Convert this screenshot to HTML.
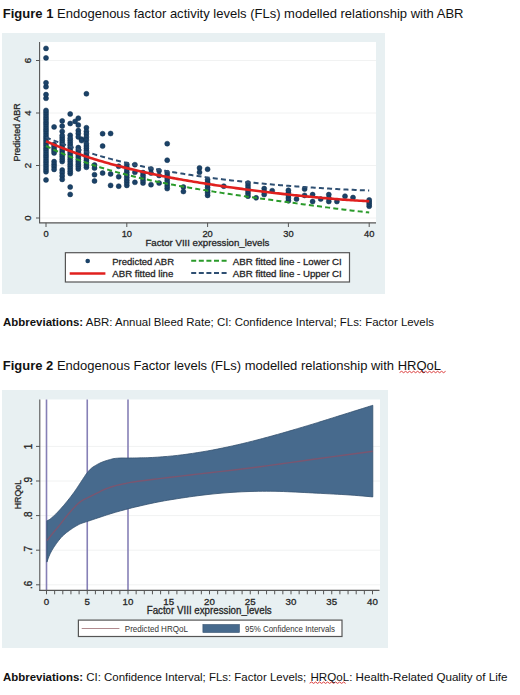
<!DOCTYPE html>
<html><head><meta charset="utf-8"><title>Figures</title>
<style>
html,body{margin:0;padding:0;background:#fff;width:520px;height:695px;overflow:hidden;}
svg{display:block;}
text{font-family:"Liberation Sans",sans-serif;}
.c{stroke:#2a2a2a;stroke-width:0.3px;}
</style></head>
<body>
<svg width="520" height="695" viewBox="0 0 520 695">
<text x="2.8" y="18" font-size="13" fill="#111" font-family="'Liberation Sans',sans-serif" textLength="460.7" lengthAdjust="spacingAndGlyphs"><tspan font-weight="bold">Figure 1</tspan> Endogenous factor activity levels (FLs) modelled relationship with ABR</text>
<rect x="2" y="33" width="383" height="261" fill="#e8f0f2"/>
<rect x="40" y="42" width="336" height="181" fill="#fff"/>
<line x1="40" x2="376" y1="218.00" y2="218.00" stroke="#f1f2f2" stroke-width="1"/>
<line x1="40" x2="376" y1="165.50" y2="165.50" stroke="#f1f2f2" stroke-width="1"/>
<line x1="40" x2="376" y1="113.00" y2="113.00" stroke="#f1f2f2" stroke-width="1"/>
<line x1="40" x2="376" y1="60.50" y2="60.50" stroke="#f1f2f2" stroke-width="1"/>
<g fill="#1b4268" stroke="#10304f" stroke-width="0.5"><circle cx="46.0" cy="179.9" r="2.5"/><circle cx="46.0" cy="171.8" r="2.5"/><circle cx="46.0" cy="169.4" r="2.5"/><circle cx="46.0" cy="167.1" r="2.5"/><circle cx="46.0" cy="164.7" r="2.5"/><circle cx="46.0" cy="162.3" r="2.5"/><circle cx="46.0" cy="160.0" r="2.5"/><circle cx="46.0" cy="157.6" r="2.5"/><circle cx="46.0" cy="155.3" r="2.5"/><circle cx="46.0" cy="152.9" r="2.5"/><circle cx="46.0" cy="150.5" r="2.5"/><circle cx="46.0" cy="148.2" r="2.5"/><circle cx="46.0" cy="145.8" r="2.5"/><circle cx="46.0" cy="143.4" r="2.5"/><circle cx="46.0" cy="141.1" r="2.5"/><circle cx="46.0" cy="138.7" r="2.5"/><circle cx="46.0" cy="136.4" r="2.5"/><circle cx="46.0" cy="134.0" r="2.5"/><circle cx="46.0" cy="131.6" r="2.5"/><circle cx="46.0" cy="129.3" r="2.5"/><circle cx="46.0" cy="126.9" r="2.5"/><circle cx="46.0" cy="124.5" r="2.5"/><circle cx="46.0" cy="122.2" r="2.5"/><circle cx="46.0" cy="119.8" r="2.5"/><circle cx="46.0" cy="117.5" r="2.5"/><circle cx="46.0" cy="115.1" r="2.5"/><circle cx="46.0" cy="112.7" r="2.5"/><circle cx="46.0" cy="110.4" r="2.5"/><circle cx="46.0" cy="98.3" r="2.5"/><circle cx="46.0" cy="94.6" r="2.5"/><circle cx="46.0" cy="86.8" r="2.5"/><circle cx="46.0" cy="82.8" r="2.5"/><circle cx="46.0" cy="57.9" r="2.5"/><circle cx="46.0" cy="48.4" r="2.5"/><circle cx="54.1" cy="126.9" r="2.5"/><circle cx="54.1" cy="144.5" r="2.5"/><circle cx="54.1" cy="146.6" r="2.5"/><circle cx="54.1" cy="148.7" r="2.5"/><circle cx="54.1" cy="150.8" r="2.5"/><circle cx="54.1" cy="152.9" r="2.5"/><circle cx="54.1" cy="161.6" r="2.5"/><circle cx="54.1" cy="164.2" r="2.5"/><circle cx="54.1" cy="166.8" r="2.5"/><circle cx="54.1" cy="169.4" r="2.5"/><circle cx="62.2" cy="120.9" r="2.5"/><circle cx="62.2" cy="126.1" r="2.5"/><circle cx="62.2" cy="131.4" r="2.5"/><circle cx="62.2" cy="161.6" r="2.5"/><circle cx="62.2" cy="159.2" r="2.5"/><circle cx="62.2" cy="156.8" r="2.5"/><circle cx="62.2" cy="154.5" r="2.5"/><circle cx="62.2" cy="152.1" r="2.5"/><circle cx="62.2" cy="149.8" r="2.5"/><circle cx="62.2" cy="147.4" r="2.5"/><circle cx="62.2" cy="145.0" r="2.5"/><circle cx="62.2" cy="142.7" r="2.5"/><circle cx="62.2" cy="140.3" r="2.5"/><circle cx="62.2" cy="137.9" r="2.5"/><circle cx="62.2" cy="135.6" r="2.5"/><circle cx="62.2" cy="170.0" r="2.5"/><circle cx="62.2" cy="172.8" r="2.5"/><circle cx="62.2" cy="176.0" r="2.5"/><circle cx="62.2" cy="179.4" r="2.5"/><circle cx="70.2" cy="114.0" r="2.5"/><circle cx="70.2" cy="123.5" r="2.5"/><circle cx="70.2" cy="135.3" r="2.5"/><circle cx="70.2" cy="173.6" r="2.5"/><circle cx="70.2" cy="171.3" r="2.5"/><circle cx="70.2" cy="168.9" r="2.5"/><circle cx="70.2" cy="166.6" r="2.5"/><circle cx="70.2" cy="164.2" r="2.5"/><circle cx="70.2" cy="161.8" r="2.5"/><circle cx="70.2" cy="159.5" r="2.5"/><circle cx="70.2" cy="157.1" r="2.5"/><circle cx="70.2" cy="154.7" r="2.5"/><circle cx="70.2" cy="152.4" r="2.5"/><circle cx="70.2" cy="150.0" r="2.5"/><circle cx="70.2" cy="147.6" r="2.5"/><circle cx="70.2" cy="145.3" r="2.5"/><circle cx="70.2" cy="142.9" r="2.5"/><circle cx="70.2" cy="140.6" r="2.5"/><circle cx="70.2" cy="138.2" r="2.5"/><circle cx="70.2" cy="187.0" r="2.5"/><circle cx="70.2" cy="194.4" r="2.5"/><circle cx="78.3" cy="118.2" r="2.5"/><circle cx="78.3" cy="125.1" r="2.5"/><circle cx="78.3" cy="130.6" r="2.5"/><circle cx="78.3" cy="133.5" r="2.5"/><circle cx="78.3" cy="136.9" r="2.5"/><circle cx="78.3" cy="168.9" r="2.5"/><circle cx="78.3" cy="166.6" r="2.5"/><circle cx="78.3" cy="164.2" r="2.5"/><circle cx="78.3" cy="161.8" r="2.5"/><circle cx="78.3" cy="159.5" r="2.5"/><circle cx="78.3" cy="157.1" r="2.5"/><circle cx="78.3" cy="154.7" r="2.5"/><circle cx="78.3" cy="152.4" r="2.5"/><circle cx="78.3" cy="150.0" r="2.5"/><circle cx="78.3" cy="147.6" r="2.5"/><circle cx="75.1" cy="121.4" r="2.5"/><circle cx="81.6" cy="139.2" r="2.5"/><circle cx="81.6" cy="140.6" r="2.5"/><circle cx="86.4" cy="93.8" r="2.5"/><circle cx="86.4" cy="127.7" r="2.5"/><circle cx="86.4" cy="131.4" r="2.5"/><circle cx="86.4" cy="134.0" r="2.5"/><circle cx="86.4" cy="137.1" r="2.5"/><circle cx="86.4" cy="140.0" r="2.5"/><circle cx="86.4" cy="167.3" r="2.5"/><circle cx="86.4" cy="165.0" r="2.5"/><circle cx="86.4" cy="162.6" r="2.5"/><circle cx="86.4" cy="160.2" r="2.5"/><circle cx="86.4" cy="157.9" r="2.5"/><circle cx="86.4" cy="155.5" r="2.5"/><circle cx="86.4" cy="153.2" r="2.5"/><circle cx="86.4" cy="150.8" r="2.5"/><circle cx="86.4" cy="148.4" r="2.5"/><circle cx="86.4" cy="146.1" r="2.5"/><circle cx="86.4" cy="143.7" r="2.5"/><circle cx="94.5" cy="165.0" r="2.5"/><circle cx="94.5" cy="168.1" r="2.5"/><circle cx="94.5" cy="174.7" r="2.5"/><circle cx="94.5" cy="181.0" r="2.5"/><circle cx="102.6" cy="133.7" r="2.5"/><circle cx="102.6" cy="146.1" r="2.5"/><circle cx="102.6" cy="173.1" r="2.5"/><circle cx="110.6" cy="133.5" r="2.5"/><circle cx="110.6" cy="173.9" r="2.5"/><circle cx="110.6" cy="185.4" r="2.5"/><circle cx="118.7" cy="166.3" r="2.5"/><circle cx="118.7" cy="176.8" r="2.5"/><circle cx="118.7" cy="186.2" r="2.5"/><circle cx="126.8" cy="185.4" r="2.5"/><circle cx="126.8" cy="182.8" r="2.5"/><circle cx="126.8" cy="180.2" r="2.5"/><circle cx="126.8" cy="177.6" r="2.5"/><circle cx="126.8" cy="174.9" r="2.5"/><circle cx="126.8" cy="172.3" r="2.5"/><circle cx="126.8" cy="169.7" r="2.5"/><circle cx="126.8" cy="167.1" r="2.5"/><circle cx="126.8" cy="164.4" r="2.5"/><circle cx="134.9" cy="164.7" r="2.5"/><circle cx="134.9" cy="172.3" r="2.5"/><circle cx="134.9" cy="182.3" r="2.5"/><circle cx="143.0" cy="183.1" r="2.5"/><circle cx="143.0" cy="180.5" r="2.5"/><circle cx="143.0" cy="177.8" r="2.5"/><circle cx="143.0" cy="175.2" r="2.5"/><circle cx="143.0" cy="172.6" r="2.5"/><circle cx="151.0" cy="168.9" r="2.5"/><circle cx="151.0" cy="173.1" r="2.5"/><circle cx="151.0" cy="184.7" r="2.5"/><circle cx="159.1" cy="170.8" r="2.5"/><circle cx="159.1" cy="175.5" r="2.5"/><circle cx="159.1" cy="183.1" r="2.5"/><circle cx="167.2" cy="143.7" r="2.5"/><circle cx="167.2" cy="160.2" r="2.5"/><circle cx="167.2" cy="188.6" r="2.5"/><circle cx="167.2" cy="186.0" r="2.5"/><circle cx="167.2" cy="183.3" r="2.5"/><circle cx="167.2" cy="180.7" r="2.5"/><circle cx="167.2" cy="178.1" r="2.5"/><circle cx="167.2" cy="175.5" r="2.5"/><circle cx="167.2" cy="172.8" r="2.5"/><circle cx="183.4" cy="187.0" r="2.5"/><circle cx="183.4" cy="191.5" r="2.5"/><circle cx="199.5" cy="167.9" r="2.5"/><circle cx="199.5" cy="172.3" r="2.5"/><circle cx="207.6" cy="169.2" r="2.5"/><circle cx="207.6" cy="195.4" r="2.5"/><circle cx="207.6" cy="192.8" r="2.5"/><circle cx="207.6" cy="190.2" r="2.5"/><circle cx="207.6" cy="187.6" r="2.5"/><circle cx="207.6" cy="184.9" r="2.5"/><circle cx="207.6" cy="182.3" r="2.5"/><circle cx="207.6" cy="179.7" r="2.5"/><circle cx="223.8" cy="186.2" r="2.5"/><circle cx="248.0" cy="196.2" r="2.5"/><circle cx="248.0" cy="193.6" r="2.5"/><circle cx="248.0" cy="191.0" r="2.5"/><circle cx="248.0" cy="188.3" r="2.5"/><circle cx="248.0" cy="185.7" r="2.5"/><circle cx="248.0" cy="183.1" r="2.5"/><circle cx="256.1" cy="197.8" r="2.5"/><circle cx="264.2" cy="188.6" r="2.5"/><circle cx="264.2" cy="191.8" r="2.5"/><circle cx="264.2" cy="194.6" r="2.5"/><circle cx="272.2" cy="190.7" r="2.5"/><circle cx="288.4" cy="200.7" r="2.5"/><circle cx="288.4" cy="198.1" r="2.5"/><circle cx="288.4" cy="195.4" r="2.5"/><circle cx="288.4" cy="192.8" r="2.5"/><circle cx="288.4" cy="190.2" r="2.5"/><circle cx="296.5" cy="199.1" r="2.5"/><circle cx="304.6" cy="189.1" r="2.5"/><circle cx="304.6" cy="195.4" r="2.5"/><circle cx="312.6" cy="194.6" r="2.5"/><circle cx="312.6" cy="201.5" r="2.5"/><circle cx="320.7" cy="199.1" r="2.5"/><circle cx="328.8" cy="194.6" r="2.5"/><circle cx="328.8" cy="198.1" r="2.5"/><circle cx="328.8" cy="201.5" r="2.5"/><circle cx="336.9" cy="201.5" r="2.5"/><circle cx="345.0" cy="196.2" r="2.5"/><circle cx="353.0" cy="197.5" r="2.5"/><circle cx="369.2" cy="206.2" r="2.5"/><circle cx="369.2" cy="204.1" r="2.5"/><circle cx="369.2" cy="202.0" r="2.5"/><circle cx="369.2" cy="199.9" r="2.5"/></g>
<path d="M46.00,137.31 L48.02,138.15 L50.04,138.97 L52.06,139.78 L54.08,140.58 L56.10,141.37 L58.12,142.14 L60.14,142.91 L62.16,143.66 L64.18,144.41 L66.20,145.14 L68.22,145.87 L70.24,146.58 L72.26,147.28 L74.28,147.98 L76.30,148.66 L78.32,149.33 L80.34,150.00 L82.36,150.65 L84.38,151.30 L86.40,151.94 L88.42,152.56 L90.44,153.18 L92.46,153.79 L94.48,154.39 L96.50,154.98 L98.52,155.57 L100.54,156.14 L102.56,156.71 L104.58,157.27 L106.60,157.82 L108.62,158.36 L110.64,158.90 L112.66,159.43 L114.68,159.95 L116.70,160.46 L118.72,160.97 L120.74,161.47 L122.76,161.96 L124.78,162.44 L126.80,162.92 L128.82,163.39 L130.84,163.85 L132.86,164.31 L134.88,164.76 L136.90,165.21 L138.92,165.64 L140.94,166.08 L142.96,166.50 L144.98,166.92 L147.00,167.33 L149.02,167.74 L151.04,168.14 L153.06,168.54 L155.08,168.93 L157.10,169.32 L159.12,169.70 L161.14,170.07 L163.16,170.44 L165.18,170.80 L167.20,171.16 L169.22,171.52 L171.24,171.87 L173.26,172.21 L175.28,172.55 L177.30,172.89 L179.32,173.22 L181.34,173.54 L183.36,173.86 L185.38,174.18 L187.40,174.49 L189.42,174.80 L191.44,175.10 L193.46,175.40 L195.48,175.70 L197.50,175.99 L199.52,176.28 L201.54,176.56 L203.56,176.84 L205.58,177.12 L207.60,177.39 L209.62,177.66 L211.64,177.93 L213.66,178.19 L215.68,178.45 L217.70,178.70 L219.72,178.96 L221.74,179.20 L223.76,179.45 L225.78,179.69 L227.80,179.93 L229.82,180.17 L231.84,180.40 L233.86,180.63 L235.88,180.86 L237.90,181.08 L239.92,181.30 L241.94,181.52 L243.96,181.73 L245.98,181.95 L248.00,182.16 L250.02,182.36 L252.04,182.57 L254.06,182.77 L256.08,182.97 L258.10,183.17 L260.12,183.36 L262.14,183.55 L264.16,183.74 L266.18,183.93 L268.20,184.11 L270.22,184.30 L272.24,184.47 L274.26,184.65 L276.28,184.83 L278.30,185.00 L280.32,185.17 L282.34,185.34 L284.36,185.50 L286.38,185.67 L288.40,185.83 L290.42,185.99 L292.44,186.15 L294.46,186.30 L296.48,186.45 L298.50,186.60 L300.52,186.75 L302.54,186.90 L304.56,187.04 L306.58,187.18 L308.60,187.32 L310.62,187.46 L312.64,187.60 L314.66,187.73 L316.68,187.86 L318.70,187.99 L320.72,188.12 L322.74,188.24 L324.76,188.37 L326.78,188.49 L328.80,188.61 L330.82,188.72 L332.84,188.84 L334.86,188.95 L336.88,189.06 L338.90,189.17 L340.92,189.27 L342.94,189.38 L344.96,189.48 L346.98,189.58 L349.00,189.67 L351.02,189.77 L353.04,189.86 L355.06,189.95 L357.08,190.04 L359.10,190.12 L361.12,190.21 L363.14,190.29 L365.16,190.36 L367.18,190.44 L369.20,190.51" fill="none" stroke="#2e4f72" stroke-width="2" stroke-dasharray="5 3.2"/>
<path d="M46.00,145.99 L48.02,146.97 L50.04,147.94 L52.06,148.89 L54.08,149.82 L56.10,150.74 L58.12,151.64 L60.14,152.52 L62.16,153.39 L64.18,154.25 L66.20,155.09 L68.22,155.92 L70.24,156.74 L72.26,157.54 L74.28,158.32 L76.30,159.10 L78.32,159.86 L80.34,160.60 L82.36,161.34 L84.38,162.06 L86.40,162.77 L88.42,163.47 L90.44,164.16 L92.46,164.84 L94.48,165.50 L96.50,166.16 L98.52,166.80 L100.54,167.43 L102.56,168.06 L104.58,168.67 L106.60,169.27 L108.62,169.86 L110.64,170.45 L112.66,171.02 L114.68,171.59 L116.70,172.14 L118.72,172.69 L120.74,173.23 L122.76,173.76 L124.78,174.28 L126.80,174.80 L128.82,175.30 L130.84,175.80 L132.86,176.30 L134.88,176.78 L136.90,177.26 L138.92,177.73 L140.94,178.19 L142.96,178.65 L144.98,179.10 L147.00,179.54 L149.02,179.98 L151.04,180.42 L153.06,180.84 L155.08,181.26 L157.10,181.68 L159.12,182.09 L161.14,182.49 L163.16,182.89 L165.18,183.29 L167.20,183.68 L169.22,184.07 L171.24,184.45 L173.26,184.82 L175.28,185.20 L177.30,185.57 L179.32,185.93 L181.34,186.29 L183.36,186.65 L185.38,187.00 L187.40,187.35 L189.42,187.70 L191.44,188.04 L193.46,188.38 L195.48,188.72 L197.50,189.05 L199.52,189.38 L201.54,189.71 L203.56,190.04 L205.58,190.36 L207.60,190.68 L209.62,191.00 L211.64,191.32 L213.66,191.63 L215.68,191.94 L217.70,192.25 L219.72,192.56 L221.74,192.87 L223.76,193.17 L225.78,193.47 L227.80,193.77 L229.82,194.07 L231.84,194.37 L233.86,194.67 L235.88,194.96 L237.90,195.26 L239.92,195.55 L241.94,195.84 L243.96,196.13 L245.98,196.42 L248.00,196.71 L250.02,196.99 L252.04,197.28 L254.06,197.56 L256.08,197.85 L258.10,198.13 L260.12,198.41 L262.14,198.69 L264.16,198.97 L266.18,199.25 L268.20,199.53 L270.22,199.81 L272.24,200.09 L274.26,200.37 L276.28,200.64 L278.30,200.92 L280.32,201.20 L282.34,201.47 L284.36,201.75 L286.38,202.02 L288.40,202.29 L290.42,202.57 L292.44,202.84 L294.46,203.11 L296.48,203.38 L298.50,203.65 L300.52,203.92 L302.54,204.19 L304.56,204.46 L306.58,204.73 L308.60,204.99 L310.62,205.26 L312.64,205.53 L314.66,205.79 L316.68,206.06 L318.70,206.32 L320.72,206.58 L322.74,206.85 L324.76,207.11 L326.78,207.37 L328.80,207.63 L330.82,207.89 L332.84,208.14 L334.86,208.40 L336.88,208.66 L338.90,208.91 L340.92,209.16 L342.94,209.41 L344.96,209.66 L346.98,209.91 L349.00,210.16 L351.02,210.41 L353.04,210.65 L355.06,210.89 L357.08,211.13 L359.10,211.37 L361.12,211.61 L363.14,211.84 L365.16,212.08 L367.18,212.31 L369.20,212.54" fill="none" stroke="#2a9a2a" stroke-width="2" stroke-dasharray="5 3.2"/>
<path d="M46.00,141.26 L48.02,142.14 L50.04,143.00 L52.06,143.86 L54.08,144.70 L56.10,145.53 L58.12,146.34 L60.14,147.15 L62.16,147.94 L64.18,148.72 L66.20,149.49 L68.22,150.25 L70.24,151.00 L72.26,151.74 L74.28,152.46 L76.30,153.18 L78.32,153.89 L80.34,154.58 L82.36,155.27 L84.38,155.94 L86.40,156.61 L88.42,157.26 L90.44,157.91 L92.46,158.55 L94.48,159.18 L96.50,159.80 L98.52,160.41 L100.54,161.01 L102.56,161.61 L104.58,162.19 L106.60,162.77 L108.62,163.34 L110.64,163.90 L112.66,164.46 L114.68,165.00 L116.70,165.54 L118.72,166.07 L120.74,166.60 L122.76,167.12 L124.78,167.63 L126.80,168.13 L128.82,168.63 L130.84,169.12 L132.86,169.60 L134.88,170.08 L136.90,170.55 L138.92,171.02 L140.94,171.48 L142.96,171.93 L144.98,172.38 L147.00,172.82 L149.02,173.26 L151.04,173.69 L153.06,174.12 L155.08,174.54 L157.10,174.95 L159.12,175.36 L161.14,175.77 L163.16,176.17 L165.18,176.57 L167.20,176.96 L169.22,177.35 L171.24,177.73 L173.26,178.11 L175.28,178.48 L177.30,178.85 L179.32,179.22 L181.34,179.58 L183.36,179.94 L185.38,180.29 L187.40,180.64 L189.42,180.99 L191.44,181.33 L193.46,181.67 L195.48,182.01 L197.50,182.34 L199.52,182.67 L201.54,183.00 L203.56,183.32 L205.58,183.64 L207.60,183.96 L209.62,184.27 L211.64,184.58 L213.66,184.89 L215.68,185.19 L217.70,185.50 L219.72,185.79 L221.74,186.09 L223.76,186.38 L225.78,186.68 L227.80,186.96 L229.82,187.25 L231.84,187.53 L233.86,187.81 L235.88,188.09 L237.90,188.37 L239.92,188.64 L241.94,188.91 L243.96,189.18 L245.98,189.45 L248.00,189.71 L250.02,189.97 L252.04,190.23 L254.06,190.49 L256.08,190.74 L258.10,191.00 L260.12,191.25 L262.14,191.50 L264.16,191.74 L266.18,191.99 L268.20,192.23 L270.22,192.47 L272.24,192.71 L274.26,192.94 L276.28,193.18 L278.30,193.41 L280.32,193.64 L282.34,193.86 L284.36,194.09 L286.38,194.31 L288.40,194.53 L290.42,194.75 L292.44,194.97 L294.46,195.18 L296.48,195.39 L298.50,195.60 L300.52,195.81 L302.54,196.01 L304.56,196.22 L306.58,196.42 L308.60,196.62 L310.62,196.81 L312.64,197.00 L314.66,197.19 L316.68,197.38 L318.70,197.57 L320.72,197.75 L322.74,197.93 L324.76,198.11 L326.78,198.29 L328.80,198.46 L330.82,198.63 L332.84,198.79 L334.86,198.96 L336.88,199.12 L338.90,199.28 L340.92,199.43 L342.94,199.59 L344.96,199.73 L346.98,199.88 L349.00,200.02 L351.02,200.16 L353.04,200.30 L355.06,200.43 L357.08,200.56 L359.10,200.68 L361.12,200.81 L363.14,200.92 L365.16,201.04 L367.18,201.15 L369.20,201.25" fill="none" stroke="#e0201e" stroke-width="2.6"/>
<line x1="39.6" x2="39.6" y1="42" y2="223.3" stroke="#555555" stroke-width="1.1"/>
<line x1="39.4" x2="376" y1="222.8" y2="222.8" stroke="#555555" stroke-width="1.2"/>
<line x1="36" x2="40" y1="218.00" y2="218.00" stroke="#555555" stroke-width="1"/>
<text class="c" x="30.60" y="218.00" font-size="9.6" text-anchor="middle" fill="#222222" font-family="'Liberation Sans',sans-serif" transform="rotate(-90 30.60 218.00)" >0</text>
<line x1="36" x2="40" y1="165.50" y2="165.50" stroke="#555555" stroke-width="1"/>
<text class="c" x="30.60" y="165.50" font-size="9.6" text-anchor="middle" fill="#222222" font-family="'Liberation Sans',sans-serif" transform="rotate(-90 30.60 165.50)" >2</text>
<line x1="36" x2="40" y1="113.00" y2="113.00" stroke="#555555" stroke-width="1"/>
<text class="c" x="30.60" y="113.00" font-size="9.6" text-anchor="middle" fill="#222222" font-family="'Liberation Sans',sans-serif" transform="rotate(-90 30.60 113.00)" >4</text>
<line x1="36" x2="40" y1="60.50" y2="60.50" stroke="#555555" stroke-width="1"/>
<text class="c" x="30.60" y="60.50" font-size="9.6" text-anchor="middle" fill="#222222" font-family="'Liberation Sans',sans-serif" transform="rotate(-90 30.60 60.50)" >6</text>
<line x1="46.00" x2="46.00" y1="222.8" y2="227" stroke="#555555" stroke-width="1"/>
<text class="c" x="46.00" y="237.30" font-size="9.3" text-anchor="middle" fill="#222222" font-family="'Liberation Sans',sans-serif" >0</text>
<line x1="126.80" x2="126.80" y1="222.8" y2="227" stroke="#555555" stroke-width="1"/>
<text class="c" x="126.80" y="237.30" font-size="9.3" text-anchor="middle" fill="#222222" font-family="'Liberation Sans',sans-serif" >10</text>
<line x1="207.60" x2="207.60" y1="222.8" y2="227" stroke="#555555" stroke-width="1"/>
<text class="c" x="207.60" y="237.30" font-size="9.3" text-anchor="middle" fill="#222222" font-family="'Liberation Sans',sans-serif" >20</text>
<line x1="288.40" x2="288.40" y1="222.8" y2="227" stroke="#555555" stroke-width="1"/>
<text class="c" x="288.40" y="237.30" font-size="9.3" text-anchor="middle" fill="#222222" font-family="'Liberation Sans',sans-serif" >30</text>
<line x1="369.20" x2="369.20" y1="222.8" y2="227" stroke="#555555" stroke-width="1"/>
<text class="c" x="369.20" y="237.30" font-size="9.3" text-anchor="middle" fill="#222222" font-family="'Liberation Sans',sans-serif" >40</text>
<text class="c" x="207.40" y="245.70" font-size="9.8" text-anchor="middle" fill="#222222" font-family="'Liberation Sans',sans-serif" textLength="124.00" lengthAdjust="spacingAndGlyphs" >Factor VIII expression_levels</text>
<text class="c" x="20.20" y="132.50" font-size="9.1" text-anchor="middle" fill="#222222" font-family="'Liberation Sans',sans-serif" textLength="58.20" lengthAdjust="spacingAndGlyphs" transform="rotate(-90 20.20 132.50)" >Predicted ABR</text>
<rect x="65.4" y="252.7" width="284.1" height="29.3" fill="#fff" stroke="#555555" stroke-width="1.2"/>
<circle cx="87.7" cy="261" r="2.3" fill="#1b4268"/>
<line x1="69.7" x2="105.4" y1="273.5" y2="273.5" stroke="#e0201e" stroke-width="2.4"/>
<line x1="191.2" x2="226.6" y1="260.8" y2="260.8" stroke="#2a9a2a" stroke-width="2" stroke-dasharray="5 2.6"/>
<line x1="191.2" x2="226.6" y1="273" y2="273" stroke="#2e4f72" stroke-width="2" stroke-dasharray="5 2.6"/>
<text class="c" x="112.30" y="264.60" font-size="9.8" text-anchor="start" fill="#222222" font-family="'Liberation Sans',sans-serif" textLength="61.70" lengthAdjust="spacingAndGlyphs" >Predicted ABR</text>
<text class="c" x="112.30" y="277.20" font-size="9.8" text-anchor="start" fill="#222222" font-family="'Liberation Sans',sans-serif" textLength="61.00" lengthAdjust="spacingAndGlyphs" >ABR fitted line</text>
<text class="c" x="232.80" y="264.60" font-size="9.8" text-anchor="start" fill="#222222" font-family="'Liberation Sans',sans-serif" textLength="109.00" lengthAdjust="spacingAndGlyphs" >ABR fitted line - Lower CI</text>
<text class="c" x="232.80" y="277.20" font-size="9.8" text-anchor="start" fill="#222222" font-family="'Liberation Sans',sans-serif" textLength="109.00" lengthAdjust="spacingAndGlyphs" >ABR fitted line - Upper CI</text>
<text x="3" y="326.3" font-size="11" fill="#111" font-family="'Liberation Sans',sans-serif" textLength="431" lengthAdjust="spacingAndGlyphs"><tspan font-weight="bold">Abbreviations:</tspan> ABR: Annual Bleed Rate; CI: Confidence Interval; FLs: Factor Levels</text>
<text x="2.8" y="370.3" font-size="13" fill="#111" font-family="'Liberation Sans',sans-serif" textLength="438.2" lengthAdjust="spacingAndGlyphs"><tspan font-weight="bold">Figure 2</tspan> Endogenous Factor levels (FLs) modelled relationship with HRQoL</text>
<path d="M399.6,372.5 L401.6,371.3 L403.6,372.7 L405.6,371.3 L407.6,372.7 L409.6,371.3 L411.6,372.7 L413.6,371.3 L415.6,372.7 L417.6,371.3 L419.6,372.7 L421.6,371.3 L423.6,372.7 L425.6,371.3 L427.6,372.7 L429.6,371.3 L431.6,372.7 L433.6,371.3 L435.6,372.7 L437.6,371.3 L439.6,372.7 L441.6,371.3 L443.6,372.7 L445.6,371.3" fill="none" stroke="#d82828" stroke-width="0.9"/>
<path d="M309.6,683.2 L311.6,682.0 L313.6,683.4 L315.6,682.0 L317.6,683.4 L319.6,682.0 L321.6,683.4 L323.6,682.0 L325.6,683.4 L327.6,682.0 L329.6,683.4 L331.6,682.0 L333.6,683.4 L335.6,682.0 L337.6,683.4 L339.6,682.0 L341.6,683.4 L343.6,682.0 L345.6,683.4" fill="none" stroke="#d82828" stroke-width="0.9"/>
<rect x="2" y="390" width="386" height="258" fill="#e8f0f2"/>
<rect x="40" y="399.5" width="340" height="191" fill="#fff"/>
<line x1="40" x2="380" y1="584.80" y2="584.80" stroke="#f1f2f2" stroke-width="1"/>
<line x1="40" x2="380" y1="550.20" y2="550.20" stroke="#f1f2f2" stroke-width="1"/>
<line x1="40" x2="380" y1="515.60" y2="515.60" stroke="#f1f2f2" stroke-width="1"/>
<line x1="40" x2="380" y1="481.00" y2="481.00" stroke="#f1f2f2" stroke-width="1"/>
<line x1="40" x2="380" y1="446.40" y2="446.40" stroke="#f1f2f2" stroke-width="1"/>
<line x1="46.50" x2="46.50" y1="399.5" y2="590.3" stroke="#8680b6" stroke-width="1.6"/>
<line x1="87.25" x2="87.25" y1="399.5" y2="590.3" stroke="#8680b6" stroke-width="1.6"/>
<line x1="128.00" x2="128.00" y1="399.5" y2="590.3" stroke="#8680b6" stroke-width="1.6"/>
<polygon points="46.90,520.70 47.18,520.59 47.54,520.47 47.99,520.32 48.51,520.09 49.12,519.76 49.80,519.30 50.59,518.69 51.49,517.95 52.46,517.11 53.49,516.19 54.55,515.21 55.60,514.20 56.66,513.13 57.76,511.99 58.89,510.79 60.03,509.55 61.17,508.28 62.30,507.00 63.44,505.68 64.60,504.32 65.76,502.92 66.91,501.53 68.03,500.14 69.10,498.80 70.11,497.51 71.08,496.26 72.01,495.03 72.93,493.79 73.86,492.52 74.80,491.20 75.76,489.81 76.73,488.38 77.69,486.92 78.66,485.44 79.63,483.96 80.60,482.50 81.58,481.01 82.58,479.47 83.58,477.93 84.56,476.44 85.50,475.05 86.40,473.80 87.24,472.71 88.02,471.73 88.78,470.86 89.51,470.06 90.25,469.31 91.00,468.60 91.76,467.95 92.50,467.37 93.25,466.85 94.01,466.36 94.79,465.89 95.60,465.40 96.45,464.90 97.31,464.41 98.21,463.94 99.12,463.47 100.05,463.03 101.00,462.60 101.97,462.19 102.95,461.81 103.96,461.44 104.98,461.08 106.03,460.74 107.10,460.40 108.20,460.06 109.34,459.73 110.49,459.40 111.66,459.10 112.83,458.83 114.00,458.60 115.16,458.42 116.33,458.29 117.50,458.19 118.67,458.11 119.84,458.05 121.00,458.00 122.12,457.97 123.19,457.96 124.26,457.97 125.37,457.99 126.57,458.00 127.90,458.00 129.38,457.99 130.96,457.98 132.63,457.97 134.37,457.95 136.17,457.93 138.00,457.90 139.86,457.87 141.75,457.84 143.69,457.81 145.71,457.76 147.80,457.69 150.00,457.60 152.33,457.48 154.78,457.34 157.31,457.18 159.89,457.00 162.47,456.80 165.00,456.60 167.50,456.39 170.00,456.16 172.50,455.92 175.00,455.66 177.50,455.39 180.00,455.10 182.50,454.79 185.00,454.46 187.50,454.11 190.00,453.75 192.50,453.38 195.00,453.00 197.50,452.61 200.00,452.21 202.50,451.81 205.00,451.39 207.50,450.95 210.00,450.50 212.50,450.03 215.00,449.55 217.50,449.05 220.00,448.54 222.50,448.02 225.00,447.50 227.50,446.97 230.00,446.44 232.50,445.89 235.00,445.34 237.50,444.78 240.00,444.20 242.50,443.61 245.00,443.01 247.50,442.39 250.00,441.77 252.50,441.14 255.00,440.50 257.50,439.85 260.00,439.20 262.50,438.53 265.00,437.86 267.50,437.18 270.00,436.50 272.50,435.81 275.00,435.12 277.50,434.43 280.00,433.72 282.50,433.01 285.00,432.30 287.50,431.58 290.00,430.85 292.50,430.12 295.00,429.38 297.50,428.64 300.00,427.90 302.50,427.16 305.00,426.41 307.50,425.67 310.00,424.92 312.50,424.16 315.00,423.40 317.50,422.63 320.00,421.85 322.50,421.06 325.00,420.27 327.50,419.49 330.00,418.70 332.50,417.92 335.00,417.13 337.50,416.35 340.00,415.57 342.50,414.78 345.00,414.00 347.53,413.21 350.08,412.41 352.64,411.61 355.16,410.81 357.63,410.04 360.00,409.30 362.41,408.55 364.90,407.77 367.34,407.01 369.56,406.31 371.43,405.73 372.80,405.30 372.80,496.90 370.34,496.69 366.97,496.39 362.96,496.04 358.61,495.67 354.19,495.31 350.00,495.00 345.96,494.74 341.83,494.49 337.64,494.26 333.41,494.04 329.19,493.82 325.00,493.60 320.83,493.37 316.67,493.15 312.50,492.93 308.33,492.71 304.17,492.50 300.00,492.30 295.83,492.10 291.67,491.90 287.50,491.71 283.33,491.53 279.17,491.39 275.00,491.30 270.82,491.25 266.63,491.24 262.44,491.26 258.26,491.31 254.11,491.39 250.00,491.50 245.94,491.64 241.93,491.81 237.94,492.01 233.96,492.24 229.99,492.51 226.00,492.80 222.00,493.12 218.00,493.48 214.00,493.87 210.00,494.29 206.00,494.73 202.00,495.20 197.95,495.71 193.85,496.26 189.75,496.84 185.70,497.43 181.77,498.02 178.00,498.60 174.44,499.16 171.04,499.70 167.75,500.24 164.52,500.79 161.29,501.38 158.00,502.00 154.55,502.70 150.97,503.46 147.38,504.26 143.93,505.04 140.76,505.77 138.00,506.40 135.80,506.91 134.08,507.31 132.63,507.67 131.26,508.02 129.75,508.41 127.90,508.90 125.67,509.49 123.22,510.14 120.63,510.84 118.00,511.57 115.43,512.29 113.00,513.00 110.72,513.69 108.53,514.39 106.39,515.08 104.27,515.78 102.15,516.49 100.00,517.20 97.75,517.94 95.42,518.72 93.09,519.51 90.83,520.27 88.74,520.97 86.90,521.60 85.38,522.10 84.12,522.47 83.03,522.80 81.99,523.14 80.92,523.55 79.70,524.10 78.34,524.79 76.91,525.57 75.44,526.42 73.95,527.34 72.46,528.30 71.00,529.30 69.54,530.33 68.06,531.41 66.59,532.54 65.14,533.71 63.73,534.93 62.40,536.20 61.13,537.53 59.91,538.94 58.74,540.39 57.61,541.87 56.53,543.35 55.50,544.80 54.51,546.23 53.57,547.66 52.68,549.09 51.84,550.53 51.04,551.96 50.30,553.40 49.59,554.94 48.91,556.61 48.27,558.29 47.71,559.84 47.25,561.15 46.90,562.10" fill="#476a8d" stroke="#34506e" stroke-width="0.8"/>
<polyline points="46.90,540.60 47.56,539.77 48.47,538.63 49.55,537.28 50.72,535.81 51.90,534.35 53.00,533.00 54.04,531.76 55.07,530.55 56.11,529.34 57.17,528.10 58.26,526.79 59.40,525.40 60.59,523.88 61.84,522.26 63.11,520.57 64.41,518.87 65.71,517.20 67.00,515.60 68.31,514.05 69.66,512.49 71.02,510.97 72.35,509.51 73.62,508.14 74.80,506.90 75.86,505.80 76.82,504.82 77.72,503.93 78.61,503.11 79.52,502.35 80.50,501.60 81.52,500.91 82.55,500.30 83.60,499.74 84.70,499.20 85.86,498.63 87.10,498.00 88.44,497.32 89.87,496.60 91.37,495.86 92.90,495.11 94.46,494.35 96.00,493.60 97.55,492.83 99.12,492.03 100.71,491.23 102.31,490.44 103.91,489.69 105.50,489.00 107.09,488.37 108.69,487.79 110.28,487.24 111.87,486.73 113.45,486.25 115.00,485.80 116.47,485.40 117.85,485.06 119.22,484.76 120.65,484.46 122.22,484.15 124.00,483.80 125.60,483.46 126.89,483.14 128.31,482.82 130.33,482.43 133.41,481.94 138.00,481.30 144.38,480.48 152.22,479.51 161.12,478.43 170.67,477.29 180.43,476.13 190.00,475.00 199.54,473.89 209.41,472.76 219.50,471.62 229.70,470.45 239.91,469.24 250.00,468.00 259.97,466.71 269.90,465.37 279.82,463.99 289.79,462.60 299.84,461.20 310.00,459.80 321.03,458.30 333.05,456.67 345.15,455.04 356.41,453.51 365.94,452.23 372.80,451.30" fill="none" stroke="#7a5670" stroke-width="1.4"/>
<line x1="39.8" x2="39.8" y1="399.5" y2="591" stroke="#555555" stroke-width="1.1"/>
<line x1="39.4" x2="379.5" y1="590.3" y2="590.3" stroke="#555555" stroke-width="1.2"/>
<line x1="36" x2="40" y1="584.80" y2="584.80" stroke="#555555" stroke-width="1"/>
<text class="c" x="32.10" y="584.80" font-size="10" text-anchor="middle" fill="#222222" font-family="'Liberation Sans',sans-serif" transform="rotate(-90 32.10 584.80)" >.6</text>
<line x1="36" x2="40" y1="550.20" y2="550.20" stroke="#555555" stroke-width="1"/>
<text class="c" x="32.10" y="550.20" font-size="10" text-anchor="middle" fill="#222222" font-family="'Liberation Sans',sans-serif" transform="rotate(-90 32.10 550.20)" >.7</text>
<line x1="36" x2="40" y1="515.60" y2="515.60" stroke="#555555" stroke-width="1"/>
<text class="c" x="32.10" y="515.60" font-size="10" text-anchor="middle" fill="#222222" font-family="'Liberation Sans',sans-serif" transform="rotate(-90 32.10 515.60)" >.8</text>
<line x1="36" x2="40" y1="481.00" y2="481.00" stroke="#555555" stroke-width="1"/>
<text class="c" x="32.10" y="481.00" font-size="10" text-anchor="middle" fill="#222222" font-family="'Liberation Sans',sans-serif" transform="rotate(-90 32.10 481.00)" >.9</text>
<line x1="36" x2="40" y1="446.40" y2="446.40" stroke="#555555" stroke-width="1"/>
<text class="c" x="32.10" y="446.40" font-size="10" text-anchor="middle" fill="#222222" font-family="'Liberation Sans',sans-serif" transform="rotate(-90 32.10 446.40)" >1</text>
<line x1="46.50" x2="46.50" y1="590.3" y2="594.3" stroke="#555555" stroke-width="1"/>
<line x1="54.65" x2="54.65" y1="590.3" y2="594.3" stroke="#555555" stroke-width="1"/>
<line x1="62.80" x2="62.80" y1="590.3" y2="594.3" stroke="#555555" stroke-width="1"/>
<line x1="70.95" x2="70.95" y1="590.3" y2="594.3" stroke="#555555" stroke-width="1"/>
<line x1="79.10" x2="79.10" y1="590.3" y2="594.3" stroke="#555555" stroke-width="1"/>
<line x1="87.25" x2="87.25" y1="590.3" y2="594.3" stroke="#555555" stroke-width="1"/>
<line x1="95.40" x2="95.40" y1="590.3" y2="594.3" stroke="#555555" stroke-width="1"/>
<line x1="103.55" x2="103.55" y1="590.3" y2="594.3" stroke="#555555" stroke-width="1"/>
<line x1="111.70" x2="111.70" y1="590.3" y2="594.3" stroke="#555555" stroke-width="1"/>
<line x1="119.85" x2="119.85" y1="590.3" y2="594.3" stroke="#555555" stroke-width="1"/>
<line x1="128.00" x2="128.00" y1="590.3" y2="594.3" stroke="#555555" stroke-width="1"/>
<line x1="136.15" x2="136.15" y1="590.3" y2="594.3" stroke="#555555" stroke-width="1"/>
<line x1="144.30" x2="144.30" y1="590.3" y2="594.3" stroke="#555555" stroke-width="1"/>
<line x1="152.45" x2="152.45" y1="590.3" y2="594.3" stroke="#555555" stroke-width="1"/>
<line x1="160.60" x2="160.60" y1="590.3" y2="594.3" stroke="#555555" stroke-width="1"/>
<line x1="168.75" x2="168.75" y1="590.3" y2="594.3" stroke="#555555" stroke-width="1"/>
<line x1="176.90" x2="176.90" y1="590.3" y2="594.3" stroke="#555555" stroke-width="1"/>
<line x1="185.05" x2="185.05" y1="590.3" y2="594.3" stroke="#555555" stroke-width="1"/>
<line x1="193.20" x2="193.20" y1="590.3" y2="594.3" stroke="#555555" stroke-width="1"/>
<line x1="201.35" x2="201.35" y1="590.3" y2="594.3" stroke="#555555" stroke-width="1"/>
<line x1="209.50" x2="209.50" y1="590.3" y2="594.3" stroke="#555555" stroke-width="1"/>
<line x1="217.65" x2="217.65" y1="590.3" y2="594.3" stroke="#555555" stroke-width="1"/>
<line x1="225.80" x2="225.80" y1="590.3" y2="594.3" stroke="#555555" stroke-width="1"/>
<line x1="233.95" x2="233.95" y1="590.3" y2="594.3" stroke="#555555" stroke-width="1"/>
<line x1="242.10" x2="242.10" y1="590.3" y2="594.3" stroke="#555555" stroke-width="1"/>
<line x1="250.25" x2="250.25" y1="590.3" y2="594.3" stroke="#555555" stroke-width="1"/>
<line x1="258.40" x2="258.40" y1="590.3" y2="594.3" stroke="#555555" stroke-width="1"/>
<line x1="266.55" x2="266.55" y1="590.3" y2="594.3" stroke="#555555" stroke-width="1"/>
<line x1="274.70" x2="274.70" y1="590.3" y2="594.3" stroke="#555555" stroke-width="1"/>
<line x1="282.85" x2="282.85" y1="590.3" y2="594.3" stroke="#555555" stroke-width="1"/>
<line x1="291.00" x2="291.00" y1="590.3" y2="594.3" stroke="#555555" stroke-width="1"/>
<line x1="299.15" x2="299.15" y1="590.3" y2="594.3" stroke="#555555" stroke-width="1"/>
<line x1="307.30" x2="307.30" y1="590.3" y2="594.3" stroke="#555555" stroke-width="1"/>
<line x1="315.45" x2="315.45" y1="590.3" y2="594.3" stroke="#555555" stroke-width="1"/>
<line x1="323.60" x2="323.60" y1="590.3" y2="594.3" stroke="#555555" stroke-width="1"/>
<line x1="331.75" x2="331.75" y1="590.3" y2="594.3" stroke="#555555" stroke-width="1"/>
<line x1="339.90" x2="339.90" y1="590.3" y2="594.3" stroke="#555555" stroke-width="1"/>
<line x1="348.05" x2="348.05" y1="590.3" y2="594.3" stroke="#555555" stroke-width="1"/>
<line x1="356.20" x2="356.20" y1="590.3" y2="594.3" stroke="#555555" stroke-width="1"/>
<line x1="364.35" x2="364.35" y1="590.3" y2="594.3" stroke="#555555" stroke-width="1"/>
<line x1="372.50" x2="372.50" y1="590.3" y2="594.3" stroke="#555555" stroke-width="1"/>
<text class="c" x="46.50" y="605.30" font-size="9.7" text-anchor="middle" fill="#222222" font-family="'Liberation Sans',sans-serif" >0</text>
<text class="c" x="87.25" y="605.30" font-size="9.7" text-anchor="middle" fill="#222222" font-family="'Liberation Sans',sans-serif" >5</text>
<text class="c" x="128.00" y="605.30" font-size="9.7" text-anchor="middle" fill="#222222" font-family="'Liberation Sans',sans-serif" >10</text>
<text class="c" x="168.75" y="605.30" font-size="9.7" text-anchor="middle" fill="#222222" font-family="'Liberation Sans',sans-serif" >15</text>
<text class="c" x="209.50" y="605.30" font-size="9.7" text-anchor="middle" fill="#222222" font-family="'Liberation Sans',sans-serif" >20</text>
<text class="c" x="250.25" y="605.30" font-size="9.7" text-anchor="middle" fill="#222222" font-family="'Liberation Sans',sans-serif" >25</text>
<text class="c" x="291.00" y="605.30" font-size="9.7" text-anchor="middle" fill="#222222" font-family="'Liberation Sans',sans-serif" >30</text>
<text class="c" x="331.75" y="605.30" font-size="9.7" text-anchor="middle" fill="#222222" font-family="'Liberation Sans',sans-serif" >35</text>
<text class="c" x="372.50" y="605.30" font-size="9.7" text-anchor="middle" fill="#222222" font-family="'Liberation Sans',sans-serif" >40</text>
<text class="c" x="209.20" y="614.40" font-size="10.2" text-anchor="middle" fill="#222222" font-family="'Liberation Sans',sans-serif" textLength="125.00" lengthAdjust="spacingAndGlyphs" >Factor VIII expression_levels</text>
<text class="c" x="20.90" y="494.60" font-size="9.6" text-anchor="middle" fill="#222222" font-family="'Liberation Sans',sans-serif" textLength="29.50" lengthAdjust="spacingAndGlyphs" transform="rotate(-90 20.90 494.60)" >HRQoL</text>
<rect x="78.4" y="620.1" width="263.6" height="16.4" fill="#fff" stroke="#555555" stroke-width="1.2"/>
<line x1="81.7" x2="119.4" y1="628.5" y2="628.5" stroke="#b08a8e" stroke-width="1"/>
<text class="n" x="124.80" y="631.60" font-size="8.2" text-anchor="start" fill="#333" font-family="'Liberation Sans',sans-serif" textLength="63.20" lengthAdjust="spacingAndGlyphs" >Predicted HRQoL</text>
<rect x="202.9" y="624.5" width="36.5" height="8" fill="#476a8d" stroke="#34506e" stroke-width="0.6"/>
<text class="n" x="245.00" y="631.60" font-size="8.2" text-anchor="start" fill="#333" font-family="'Liberation Sans',sans-serif" textLength="90.00" lengthAdjust="spacingAndGlyphs" >95% Confidence Intervals</text>
<text x="3" y="681.3" font-size="11" fill="#111" font-family="'Liberation Sans',sans-serif" textLength="303.2" lengthAdjust="spacingAndGlyphs"><tspan font-weight="bold">Abbreviations:</tspan> CI: Confidence Interval; FLs: Factor Levels;</text>
<text x="310.4" y="681.3" font-size="11" fill="#111" font-family="'Liberation Sans',sans-serif" textLength="197.1" lengthAdjust="spacingAndGlyphs">HRQoL: Health-Related Quality of Life</text>
</svg>
</body></html>
